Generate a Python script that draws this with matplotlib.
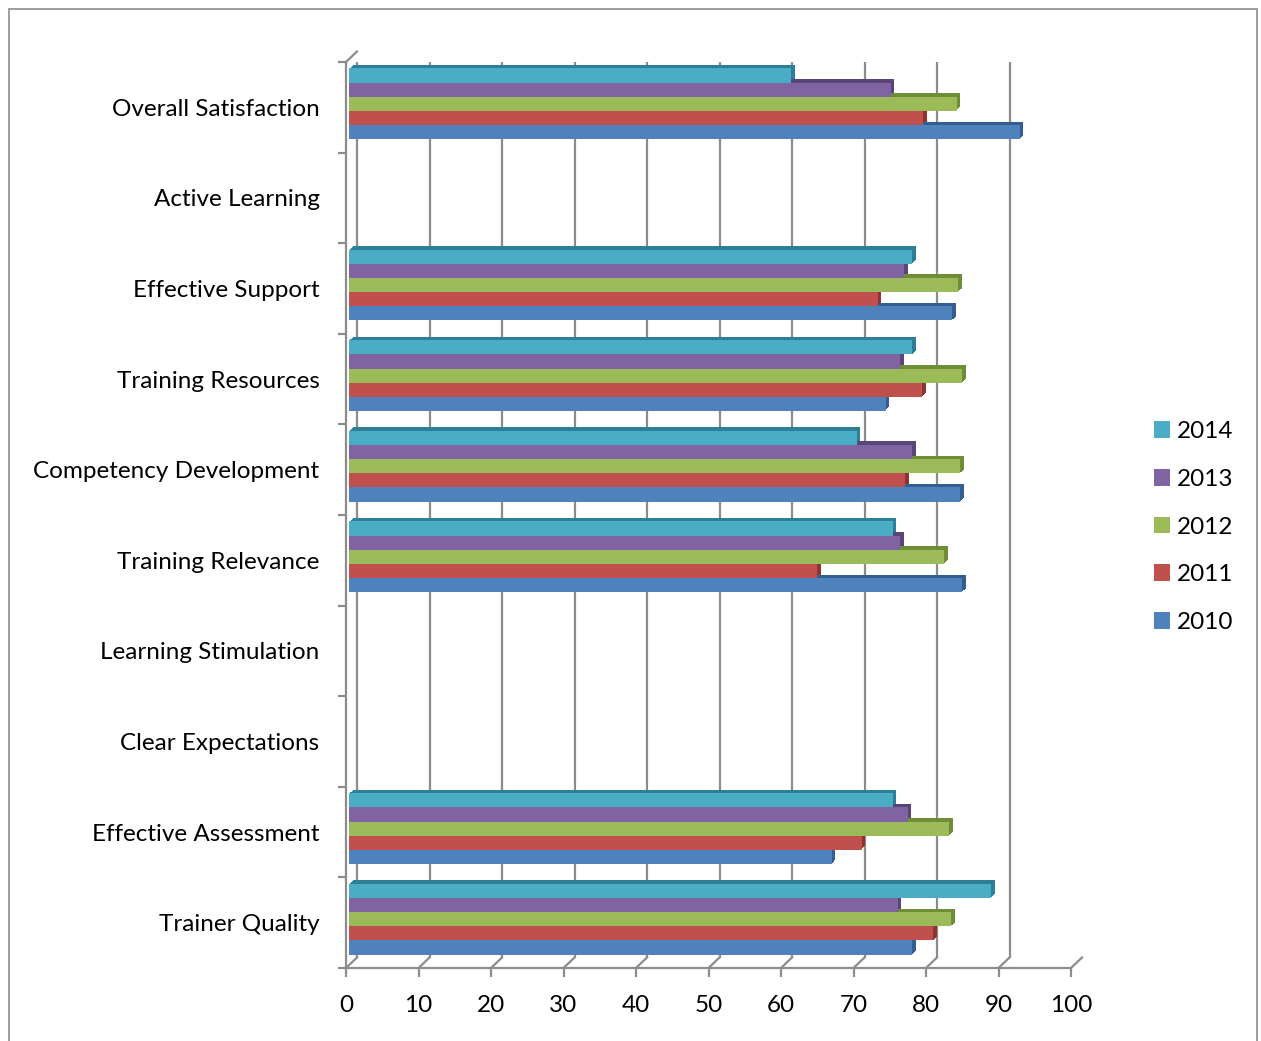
import numpy as np
import matplotlib
matplotlib.use("Agg")
import matplotlib.pyplot as plt
from matplotlib.transforms import ScaledTranslation
from matplotlib.patches import Patch, Rectangle

nan = np.nan
categories = ['Overall Satisfaction', 'Active Learning', 'Effective Support',
              'Training Resources', 'Competency Development', 'Training Relevance',
              'Learning Stimulation', 'Clear Expectations', 'Effective Assessment',
              'Trainer Quality']
years = ['2014', '2013', '2012', '2011', '2010']
v2014 = [61.0, nan, 77.7, 77.7, 70.0, 75.0, nan, nan, 75.0, 88.6]
v2013 = [74.7, nan, 76.6, 76.0, 77.7, 76.0, nan, nan, 77.1, 75.7]
v2012 = [83.8, nan, 84.0, 84.6, 84.3, 82.1, nan, nan, 82.8, 83.1]
v2011 = [79.2, nan, 72.9, 79.1, 76.7, 64.6, nan, nan, 70.7, 80.6]
v2010 = [92.5, nan, 83.2, 74.0, 84.3, 84.6, nan, nan, 66.6, 77.7]
series = [v2014, v2013, v2012, v2011, v2010]
xticks = list(range(0, 101, 10))

front_colors = ['#4BACC6', '#8064A2', '#9BBB59', '#C0504D', '#4F81BD']
side_colors = ['#2E7F96', '#5A4578', '#6F8C37', '#8E3330', '#335E91']
grid_c = '#8C8C8C'

W, H = 1261, 1041
fig = plt.figure(figsize=(W / 100, H / 100), dpi=100)
plt.rcParams['font.family'] = ['Lato', 'DejaVu Sans']

# calibrate font size to reference text width
r = fig.canvas.get_renderer()
t = fig.text(0, 0, 'Overall Satisfaction', fontsize=12)
w = t.get_window_extent(r).width
t.remove()
fs = 12 * 207 / w

x0, x1, ytop, ybot = 346, 1071, 62, 968
ax = fig.add_axes([x0 / W, (H - ybot) / H, (x1 - x0) / W, (ybot - ytop) / H])
ax.set_xlim(0, 100)
ax.set_ylim(len(categories) - 0.5, -0.5)
ax.patch.set_visible(False)
for s in ['top', 'right']:
    ax.spines[s].set_visible(False)
for s in ['left', 'bottom']:
    ax.spines[s].set_color(grid_c)
    ax.spines[s].set_linewidth(1.6)

def off(dx, dy):
    return ax.transData + ScaledTranslation(dx / 100, dy / 100, fig.dpi_scale_trans)

back = off(11, 10.5)
n = len(categories)
# back wall gridlines
for v in xticks:
    ax.plot([v, v], [n - 0.5, -0.5], color=grid_c, lw=1.6, transform=back, zorder=1,
            solid_capstyle='butt')
# floor diagonals
for v in xticks:
    ax.plot([v, v + 11 / 7.25], [n - 0.5, n - 0.5 - 10.5 / 90.6], color=grid_c, lw=1.6,
            zorder=1, clip_on=False)
# left wall top diagonal
ax.plot([0, 11 / 7.25], [-0.5, -0.5 - 10.5 / 90.6], color=grid_c, lw=1.6, zorder=1,
        clip_on=False)

# bars (pseudo 3D)
h = 0.156
d = 3.5
idx = np.arange(n)
for k in range(4):
    tr = off(3 + d * (k + 1) / 4, 3.5 + d * (k + 1) / 4)
    for j, vals in enumerate(series):
        ypos = idx - 2.5 * h + (j + 0.5) * h
        ax.barh(ypos, vals, height=h, color=side_colors[j], transform=tr, zorder=2,
                linewidth=0)
bar_tr = off(3, 3.5)
for j, vals in enumerate(series):
    ypos = idx - 2.5 * h + (j + 0.5) * h
    ax.barh(ypos, vals, height=h, color=front_colors[j], transform=bar_tr, zorder=3,
            linewidth=0)

# ticks
ax.set_xticks(xticks)
ax.set_xticklabels([str(v) for v in xticks], fontsize=fs)
ax.tick_params(axis='x', length=6.5, width=1.6, color=grid_c, pad=13)
ax.set_yticks(idx)
ax.set_yticklabels(categories, fontsize=fs)
ax.tick_params(axis='y', which='major', length=0, pad=19)
ax.set_yticks(np.arange(-0.5, n, 1), minor=True)
ax.tick_params(axis='y', which='minor', length=6, width=1.6, color=grid_c)

# legend
handles = [Patch(facecolor=c, edgecolor='none') for c in front_colors]
fig.legend(handles, years, loc='center left', bbox_to_anchor=(1132 / W, 1 - 527 / H),
           frameon=False, fontsize=fs, handlelength=0.68, handleheight=0.68,
           handletextpad=0.25, labelspacing=1.10)

# chart border
fig.add_artist(Rectangle((9 / W, -0.05), (1257 - 9) / W, 1.05 - 9 / H,
                         transform=fig.transFigure, fill=False, edgecolor='#8C8C8C', lw=1.2))

fig.savefig('out.png', dpi=100)
